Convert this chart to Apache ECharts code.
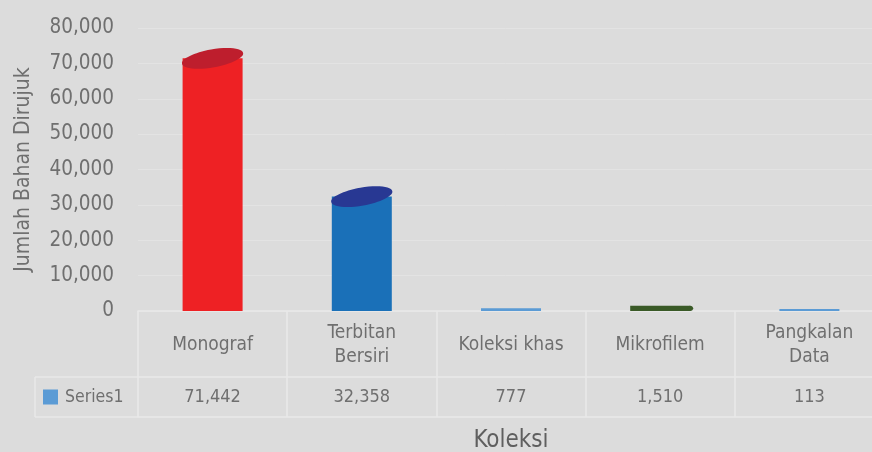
<!DOCTYPE html>
<html>
<head>
<meta charset="utf-8">
<script src="https://cdn.jsdelivr.net/npm/echarts@6/dist/echarts.min.js"></script>
<style>
html,body{margin:0;padding:0;background:#dcdcdc;}
#c{width:872px;height:452px;}
</style>
</head>
<body>
<div id="c"></div>
<script>
const categories = ['Monograf', 'Terbitan\nBersiri', 'Koleksi khas', 'Mikrofilem', 'Pangkalan\nData'];
const values = [71442, 32358, 777, 1510, 113];
const seriesName = 'Series1';
const yTicks = [0, 10000, 20000, 30000, 40000, 50000, 60000, 70000, 80000];

const barColors = ['#ee2124', '#1a70b8', '#5b9bd5', '#3a5a27', '#5b9bd5'];
const topColors = ['#be1e2d', '#283893', '#4a8ac8', '#2f4d1e', '#4a8ac8'];
const FONT = '"DejaVu Sans Condensed", "Liberation Sans Narrow", sans-serif';
const TXT = '#6f6f6f';
const LINE = '#e9e9e9';

function fmt(n){ return n.toString().replace(/\B(?=(\d{3})+(?!\d))/g, ','); }

const chart = echarts.init(document.getElementById('c'), null, {renderer: 'canvas'});
chart.setOption({
  backgroundColor: '#dcdcdc',
  animation: false,
  textStyle: {fontFamily: FONT, color: TXT},
  grid: {left: 138, right: -12, top: 28, bottom: 141, containLabel: false, outerBoundsMode: 'none'},
  legend: {
    data: [seriesName], left: 38, top: 383, icon: 'rect', itemWidth: 15, itemHeight: 15, itemGap: 6,
    textStyle: {fontFamily: FONT, fontSize: 17.5, color: TXT, padding: [0, 0, 0, 2]}
  },
  xAxis: [
    {
      type: 'category', data: categories, position: 'bottom', offset: 0,
      axisLine: {show: true, lineStyle: {color: LINE, width: 1.5}},
      axisTick: {show: true, interval: 0, length: 106, lineStyle: {color: LINE, width: 1.5}},
      axisLabel: {interval: 0, fontFamily: FONT, fontSize: 19, color: TXT, margin: 34, verticalAlign: 'middle', lineHeight: 24}
    },
    {
      type: 'category', data: categories, position: 'bottom', offset: 66,
      axisLine: {show: true, lineStyle: {color: LINE, width: 1.5}},
      axisTick: {show: false},
      axisLabel: {interval: 0, fontFamily: FONT, fontSize: 18, color: TXT, margin: 20, verticalAlign: 'middle',
        formatter: (v, i) => fmt(values[i])}
    },
    {
      type: 'category', data: categories, position: 'bottom', offset: 106,
      axisLine: {show: true, lineStyle: {color: LINE, width: 1.5}},
      axisTick: {show: false}, axisLabel: {show: false},
      name: 'Koleksi', nameLocation: 'middle', nameGap: 12,
      nameTextStyle: {fontFamily: FONT, fontSize: 24, color: '#5f5f5f'}
    }
  ],
  yAxis: {
    type: 'value', min: yTicks[0], max: yTicks[yTicks.length - 1], interval: 10000,
    axisLine: {show: false}, axisTick: {show: false},
    splitLine: {show: true, lineStyle: {color: '#e3e3e3', width: 1}},
    axisLabel: {fontFamily: FONT, fontSize: 20.5, color: TXT, margin: 24, formatter: v => fmt(v)},
    name: 'Jumlah Bahan Dirujuk', nameLocation: 'middle', nameGap: 104,
    nameTextStyle: {fontFamily: FONT, fontSize: 21, color: TXT}
  },
  graphic: [
    {type: 'line', shape: {x1: 35, y1: 377, x2: 138, y2: 377}, style: {stroke: LINE, lineWidth: 1.5}},
    {type: 'line', shape: {x1: 35, y1: 417, x2: 138, y2: 417}, style: {stroke: LINE, lineWidth: 1.5}},
    {type: 'line', shape: {x1: 35, y1: 377, x2: 35, y2: 417}, style: {stroke: LINE, lineWidth: 1.5}}
  ],
  series: [{
    name: seriesName, type: 'custom', xAxisIndex: 0,
    itemStyle: {color: '#5b9bd5'},
    data: values.map((v, i) => [i, v]),
    renderItem: function (params, api) {
      const i = api.value(0);
      const top = api.coord([i, api.value(1)]);
      const base = api.coord([i, 0]);
      const w = 60;
      let h = base[1] - top[1];
      if (h < 2) h = 2;
      const x0 = top[0] - w / 2;
      const y0 = base[1] - h;
      const ry = Math.min(9, h * 0.45);
      const children = [{
        type: 'rect', shape: {x: x0, y: y0, width: w, height: h},
        style: {fill: barColors[i]}
      }];
      if (h > 20) {
        children.push({
          type: 'ellipse', shape: {cx: top[0], cy: y0, rx: 31, ry: ry},
          rotation: 10 * Math.PI / 180, originX: top[0], originY: y0,
          style: {fill: topColors[i]}
        });
      } else if (h > 4) {
        children.push({
          type: 'ellipse', shape: {cx: x0 + w, cy: y0 + h / 2, rx: 3, ry: h / 2},
          style: {fill: barColors[i]}
        });
      }
      return {type: 'group', children: children};
    }
  }]
});
</script>
</body>
</html>
